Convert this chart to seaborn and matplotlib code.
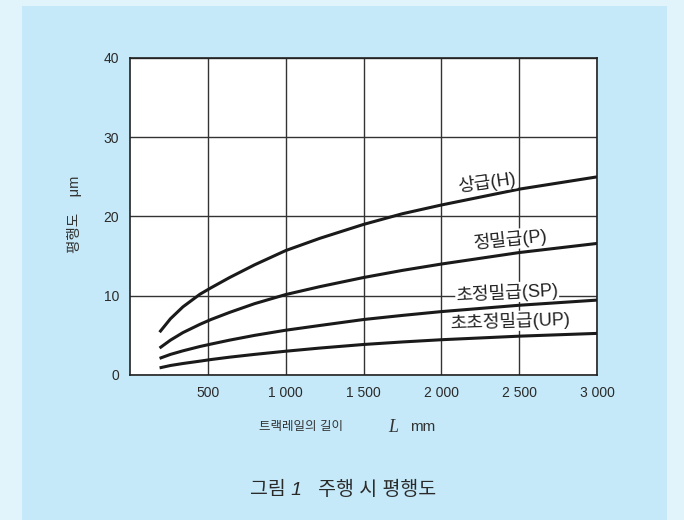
import matplotlib
matplotlib.use("Agg")
import matplotlib.pyplot as plt
import seaborn as sns
import pandas as pd
from matplotlib.patches import Rectangle

# ---- data ----
length_mm = [190, 260, 340, 450, 520, 640, 800, 1000, 1220, 1500, 1750, 2000, 2500, 3000]
grade_H = [5.4, 7.1, 8.6, 10.2, 11.0, 12.3, 13.9, 15.7, 17.25, 19.0, 20.35, 21.45, 23.45, 25.0]
grade_P = [3.4, 4.4, 5.35, 6.4, 7.0, 7.9, 9.0, 10.15, 11.15, 12.3, 13.2, 14.0, 15.45, 16.6]
grade_SP = [2.1, 2.6, 3.05, 3.6, 3.9, 4.4, 5.0, 5.65, 6.25, 7.0, 7.52, 8.0, 8.8, 9.45]
grade_UP = [0.9, 1.2, 1.45, 1.75, 1.95, 2.25, 2.6, 3.0, 3.4, 3.85, 4.17, 4.45, 4.9, 5.25]

series_names = ["상급(H)", "정밀급(P)", "초정밀급(SP)", "초초정밀급(UP)"]
x_ticks = [500, 1000, 1500, 2000, 2500, 3000]
x_tick_labels = ["500", "1 000", "1 500", "2 000", "2 500", "3 000"]
y_ticks = [0, 10, 20, 30, 40]

df = pd.DataFrame({
    "L": length_mm * 4,
    "val": grade_H + grade_P + grade_SP + grade_UP,
    "grade": sum([[n] * len(length_mm) for n in series_names], []),
})

sns.set_theme(style="white")
plt.rcParams["font.family"] = ["Liberation Sans", "Noto Sans CJK KR", "DejaVu Sans"]

OUTER = "#E1F3FB"
INNER = "#C6E9F9"

fig = plt.figure(figsize=(6.84, 5.20), dpi=100, facecolor=OUTER)
fig.patches.append(Rectangle((22 / 684, 0), (667 - 22) / 684, (520 - 6) / 520,
                             transform=fig.transFigure, facecolor=INNER,
                             edgecolor="none", zorder=-10))

ax = fig.add_axes([130 / 684, (520 - 375) / 520, 467 / 684, (375 - 58) / 520])
ax.set_zorder(5)
ax.set_facecolor("white")

sns.lineplot(data=df, x="L", y="val", hue="grade", ax=ax,
             palette=["#1a1a1a"] * 4, linewidth=2.2, legend=False, zorder=3)
for ln in ax.get_lines():
    ln.set_solid_joinstyle("round")
    ln.set_solid_capstyle("butt")

ax.set_xlim(0, 3000)
ax.set_ylim(0, 40)
ax.set_xticks(x_ticks)
ax.set_xticklabels(x_tick_labels)
ax.set_yticks(y_ticks)
ax.tick_params(axis="both", length=0, labelsize=10, labelcolor="#2a2a2a", pad=8)
ax.grid(True, color="#333333", linewidth=1.0)
ax.set_axisbelow(True)
for s in ax.spines.values():
    s.set_color("#222222")
    s.set_linewidth(1.2)
ax.set_xlabel("")
ax.set_ylabel("")

# curve labels
label_pos = [(2293, 24.3, 8), (2441, 17.1, 6), (2422, 10.4, 3), (2441, 6.8, 2)]
for name, (lx, ly, rot) in zip(series_names, label_pos):
    ax.text(lx, ly, name, ha="center", va="center", rotation=rot, fontsize=13,
            color="#222222", zorder=4,
            bbox=dict(facecolor="white", edgecolor="none", pad=0.4))

# y label
fig.text(75 / 684, 1 - 214 / 520, "평행도    μm", rotation=90, ha="center", va="center",
         fontsize=10.5, color="#333333")

# x label in pieces
fig.text(343 / 684, 1 - 427 / 520, "트랙레일의 길이", ha="right", va="center",
         fontsize=9, color="#333333")
fig.text(393 / 684, 1 - 427 / 520, "L", ha="center", va="center", fontsize=13,
         family="Liberation Serif", style="italic", color="#333333")
fig.text(410 / 684, 1 - 427 / 520, "mm", ha="left", va="center", fontsize=11,
         color="#333333")

# caption
fig.text(343 / 684, 1 - 490 / 520, "그림 1   주행 시 평행도", ha="center", va="center",
         fontsize=14, color="#2a2a2a", style="italic", fontweight="medium")

fig.savefig("out.png", dpi=100, facecolor=OUTER)
